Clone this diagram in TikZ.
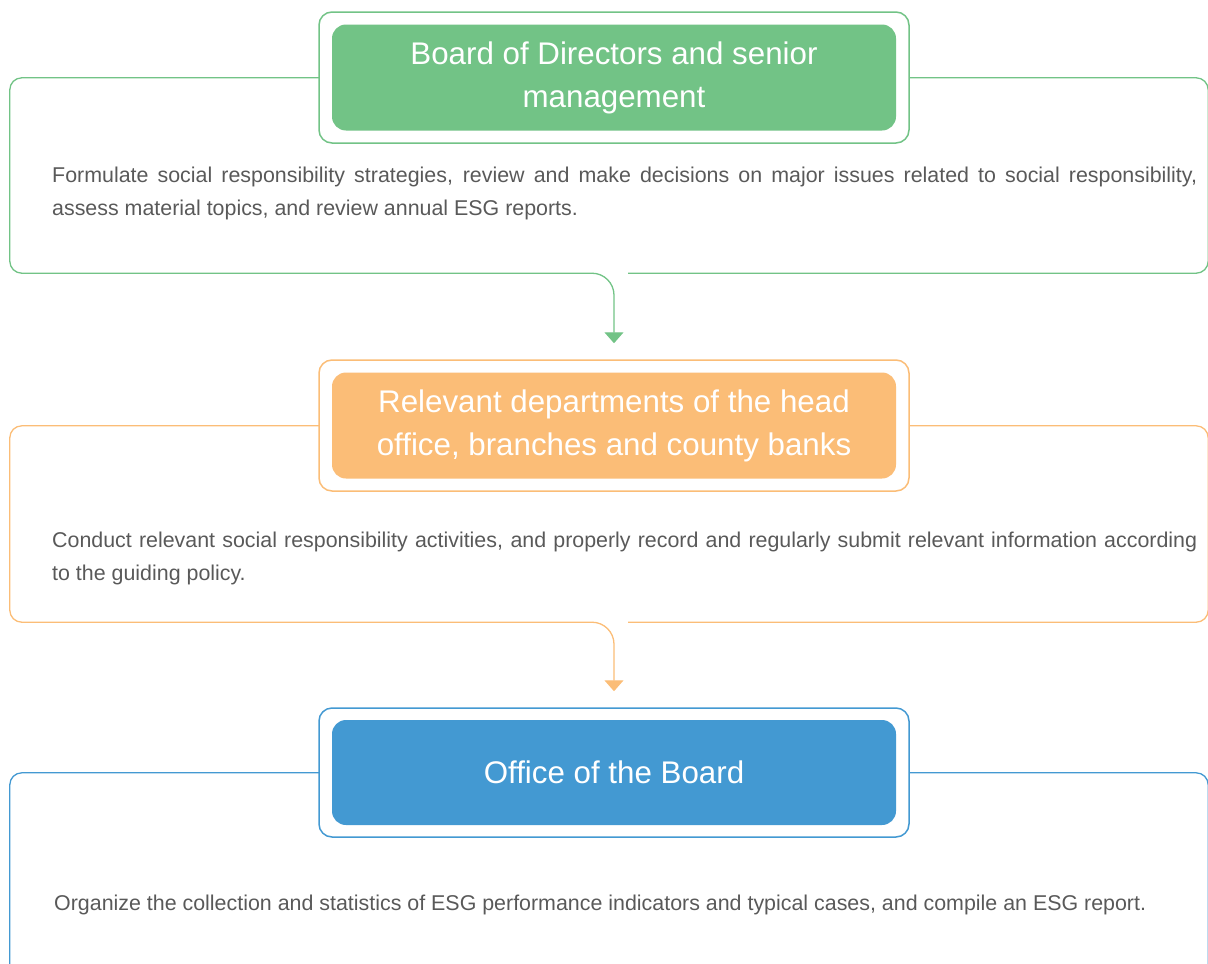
\documentclass[tikz,border=0pt]{standalone}
\usepackage{fontspec}
\setmainfont{Liberation Sans}
\usetikzlibrary{arrows.meta,positioning,calc}
\definecolor{esgGreen}{HTML}{72C386}
\definecolor{esgOrange}{HTML}{FBBD77}
\definecolor{esgBlue}{HTML}{4399D2}
\definecolor{txtGray}{HTML}{595959}

\begin{document}
\begin{tikzpicture}[x=1pt, y=-1pt,
    panel/.style={minimum width=1198pt, minimum height=#1, inner sep=0pt},
    rim/.style={draw=#1, line width=1.3pt, rounded corners=12pt},
    frame/.style={draw=#1, fill=white, line width=1.5pt, rounded corners=13pt,
      minimum width=590pt, minimum height=131pt, inner sep=0pt},
    head/.style={fill=#1, rounded corners=14pt, minimum width=564pt, minimum height=106pt,
      text=white, align=center, font=\fontsize{31.3}{43}\selectfont, inner sep=0pt},
    body/.style={text=txtGray, text width=1145pt, align=justify, inner sep=0pt,
      anchor=north west, font=\fontsize{21.4}{33}\selectfont},
    conn/.style={draw=#1, line width=1.3pt, rounded corners=22pt, shorten >=16pt,
      -{Triangle[width=19pt, length=11pt]}}]
  \useasboundingbox (0,0) rectangle (1208,964);

  \node[panel=195pt] (panA) at (609,175.5) {};
  \draw[rim=esgGreen] ($(panA.south)+(19,0)$) -| (panA.north east) -| (panA.south west)
    -- ($(panA.south)+(-17,0)$);
  \node[frame=esgGreen] (frmA) at (614,77.5) {};
  \node[head=esgGreen] (headA) at (frmA) {Board of Directors and senior\\management};
  \node[body] (txtA) at (52,166.5) {Formulate social responsibility strategies, review and make decisions on major issues related to social responsibility,\linebreak assess material topics, and review annual ESG reports.};

  \node[panel=196pt] (panB) at (609,524) {};
  \draw[rim=esgOrange] ($(panB.south)+(19,0)$) -| (panB.north east) -| (panB.south west)
    -- ($(panB.south)+(-17,0)$);
  \node[frame=esgOrange] (frmB) at (614,425.5) {};
  \node[head=esgOrange] (headB) at (frmB) {Relevant departments of the head\\office, branches and county banks};
  \node[body] (txtB) at (52,531.5) {Conduct relevant social responsibility activities, and properly record and regularly submit relevant information according\linebreak to the guiding policy.};

  \node[panel=227pt] (panC) at (609,886.5) {};
  \draw[rim=esgBlue] (panC.south west) rectangle (panC.north east);
  \node[frame=esgBlue, minimum height=129pt] (frmC) at (614,772.5) {};
  \node[head=esgBlue, minimum height=105pt] (headC) at (frmC) {Office of the Board};
  \node[body] (txtC) at (54,894.5) {Organize the collection and statistics of ESG performance indicators and typical cases, and compile an ESG report.};

  \draw[conn=esgGreen] ($(panA.south)+(-17,0)$) -| (frmB.north);
  \draw[conn=esgOrange] ($(panB.south)+(-17,0)$) -| (frmC.north);
\end{tikzpicture}
\end{document}
